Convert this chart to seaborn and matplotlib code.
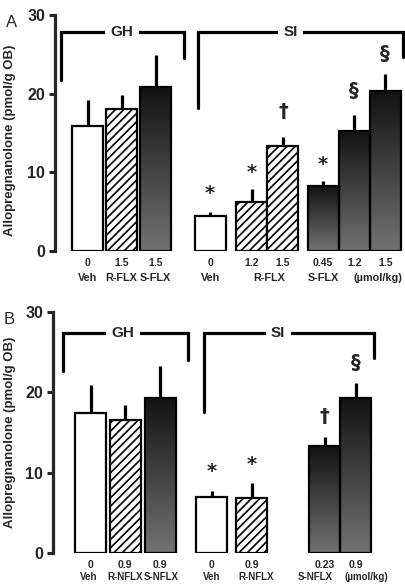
import numpy as np
import pandas as pd
import seaborn as sns
import matplotlib
matplotlib.use("Agg")
import matplotlib.pyplot as plt
from matplotlib.colors import LinearSegmentedColormap

# panel A: fluoxetine
a_pos = [0, 1.1, 2.2, 3.95, 5.3, 6.3, 7.6, 8.6, 9.6]
a_kind = ["veh", "r", "s", "veh", "r", "r", "s", "s", "s"]
a_mean = [15.9, 18.0, 20.8, 4.4, 6.2, 13.3, 8.3, 15.3, 20.3]
a_sem = [3.3, 1.8, 4.1, 0.6, 1.7, 1.2, 0.6, 2.0, 2.2]
a_dose = ["0", "1.5", "1.5", "0", "1.2", "1.5", "0.45", "1.2", "1.5"]
a_names = [(0, "Veh"), (1.1, "R-FLX"), (2.2, "S-FLX"), (3.98, "Veh"),
           (5.85, "R-FLX"), (7.62, "S-FLX"), (9.35, "(µmol/kg)")]
a_marks = [("*", 3.95, 7.3), ("*", 5.3, 10.0), ("†", 6.3, 17.7),
           ("*", 7.6, 11.0), ("§", 8.6, 20.4), ("§", 9.6, 25.1)]

# panel B: norfluoxetine
b_pos = [0.1, 1.22, 2.35, 4.0, 5.3, 7.65, 8.65]
b_kind = ["veh", "r", "s", "veh", "r", "s", "s"]
b_mean = [17.4, 16.6, 19.3, 7.0, 6.8, 13.3, 19.3]
b_sem = [3.5, 1.8, 4.0, 0.7, 1.9, 1.1, 1.9]
b_dose = ["0", "0.9", "0.9", "0", "0.9", "0.23", "0.9"]
b_names = [(0.05, "Veh"), (1.22, "R-NFLX"), (2.38, "S-NFLX"), (4.0, "Veh"),
           (5.45, "R-NFLX"), (7.35, "S-NFLX"), (9.0, "(µmol/kg)")]
b_marks = [("*", 4.0, 10.1), ("*", 5.3, 11.0), ("†", 7.65, 17.0), ("§", 8.65, 23.7)]

# brackets: (label, x_left, x_right, y_top, y_left_end, y_right_end, x_text)
a_brackets = [("GH", -0.85, 3.11, 27.8, 21.7, 24.5, 1.1),
              ("SI", 3.56, 10.18, 27.8, 18.2, 24.7, 6.55)]
b_brackets = [("GH", -0.79, 3.24, 27.4, 22.7, 24.0, 1.15),
              ("SI", 3.76, 9.24, 27.4, 17.6, 24.3, 6.15)]

sns.set_style("ticks")
plt.rcParams["font.family"] = ["Liberation Sans", "DejaVu Sans"]
plt.rcParams["hatch.linewidth"] = 1.2

grad_cmap = LinearSegmentedColormap.from_list("g", ["#121212", "#727272"])
grad = np.linspace(0, 1, 256).reshape(-1, 1)

fig = plt.figure(figsize=(4.06, 5.86), dpi=100)
axA = fig.add_axes([55 / 406, 335 / 586, 351 / 406, 236 / 586])
axB = fig.add_axes([53 / 406, 33 / 586, 353 / 406, 241 / 586])


def draw_panel(ax, pos, kind, mean, sem, dose, names, marks, brackets, xlim, letter,
               name_off, name_size):
    df = pd.DataFrame({"pos": pos, "mean": mean})
    sns.barplot(data=df, x="pos", y="mean", native_scale=True, width=1.0,
                color="white", saturation=1, edgecolor="black", linewidth=1.6,
                errorbar=None, ax=ax, zorder=3)
    bars = sorted(ax.patches, key=lambda p: p.get_x())
    for p, k in zip(bars, kind):
        p.set_zorder(3)
        if k == "r":
            p.set_hatch("////")
        elif k == "s":
            p.set_facecolor("none")
            x0 = p.get_x()
            im = ax.imshow(grad, cmap=grad_cmap, aspect="auto", zorder=2.5,
                           extent=[x0, x0 + p.get_width(), 0, p.get_height()])
            im.set_clip_path(p)
    ax.vlines(pos, mean, np.array(mean) + np.array(sem), color="black", lw=2.3, zorder=2)

    for sym, x, y in marks:
        ax.text(x, y, sym, ha="center", va="center", fontsize=14, fontweight="bold",
                family="DejaVu Sans")

    for lab, xl, xr, yt, yl, yr, xt in brackets:
        ax.plot([xl, xl, xr, xr], [yl, yt, yt, yr], color="black", lw=2.3,
                solid_joinstyle="miter", clip_on=False, zorder=4)
        ax.text(xt, yt, lab, ha="center", va="center", fontsize=11, fontweight="bold",
                zorder=5, bbox=dict(fc="white", ec="none", pad=4))

    ax.set_xlim(*xlim)
    ax.set_ylim(0, 30)
    ax.set_xticks(pos)
    ax.set_xticklabels(dose, fontsize=7.5, fontweight="bold")
    ax.tick_params(axis="x", length=0, pad=5)
    for x, lab in names:
        ax.annotate(lab, xy=(x, 0), xycoords=("data", "axes fraction"),
                    xytext=(0, -name_off), textcoords="offset points",
                    ha="center", va="top", fontsize=name_size, fontweight="bold")
    ax.set_yticks([0, 10, 20, 30])
    ax.set_yticklabels(["0", "10", "20", "30"], fontsize=11.5, fontweight="bold")
    ax.tick_params(axis="y", length=4, width=2.2, pad=3)
    for s in ["top", "right", "bottom"]:
        ax.spines[s].set_visible(False)
    ax.spines["left"].set_linewidth(2.3)
    ax.set_xlabel("")
    ax.set_ylabel("Allopregnanolone (pmol/g OB)", fontsize=9.5, fontweight="bold")
    ax.text(-0.14, 1.0, letter, transform=ax.transAxes, fontsize=12, ha="left", va="top")


draw_panel(axA, a_pos, a_kind, a_mean, a_sem, a_dose, a_names, a_marks, a_brackets,
           (-1.05, 10.27), "A", 16, 7.8)
axA.yaxis.set_label_coords(-0.111, 0.47)
draw_panel(axB, b_pos, b_kind, b_mean, b_sem, b_dose, b_names, b_marks, b_brackets,
           (-1.11, 10.27), "B", 14, 7.0)
axB.yaxis.set_label_coords(-0.105, 0.5)

fig.savefig("out.png", dpi=100)
